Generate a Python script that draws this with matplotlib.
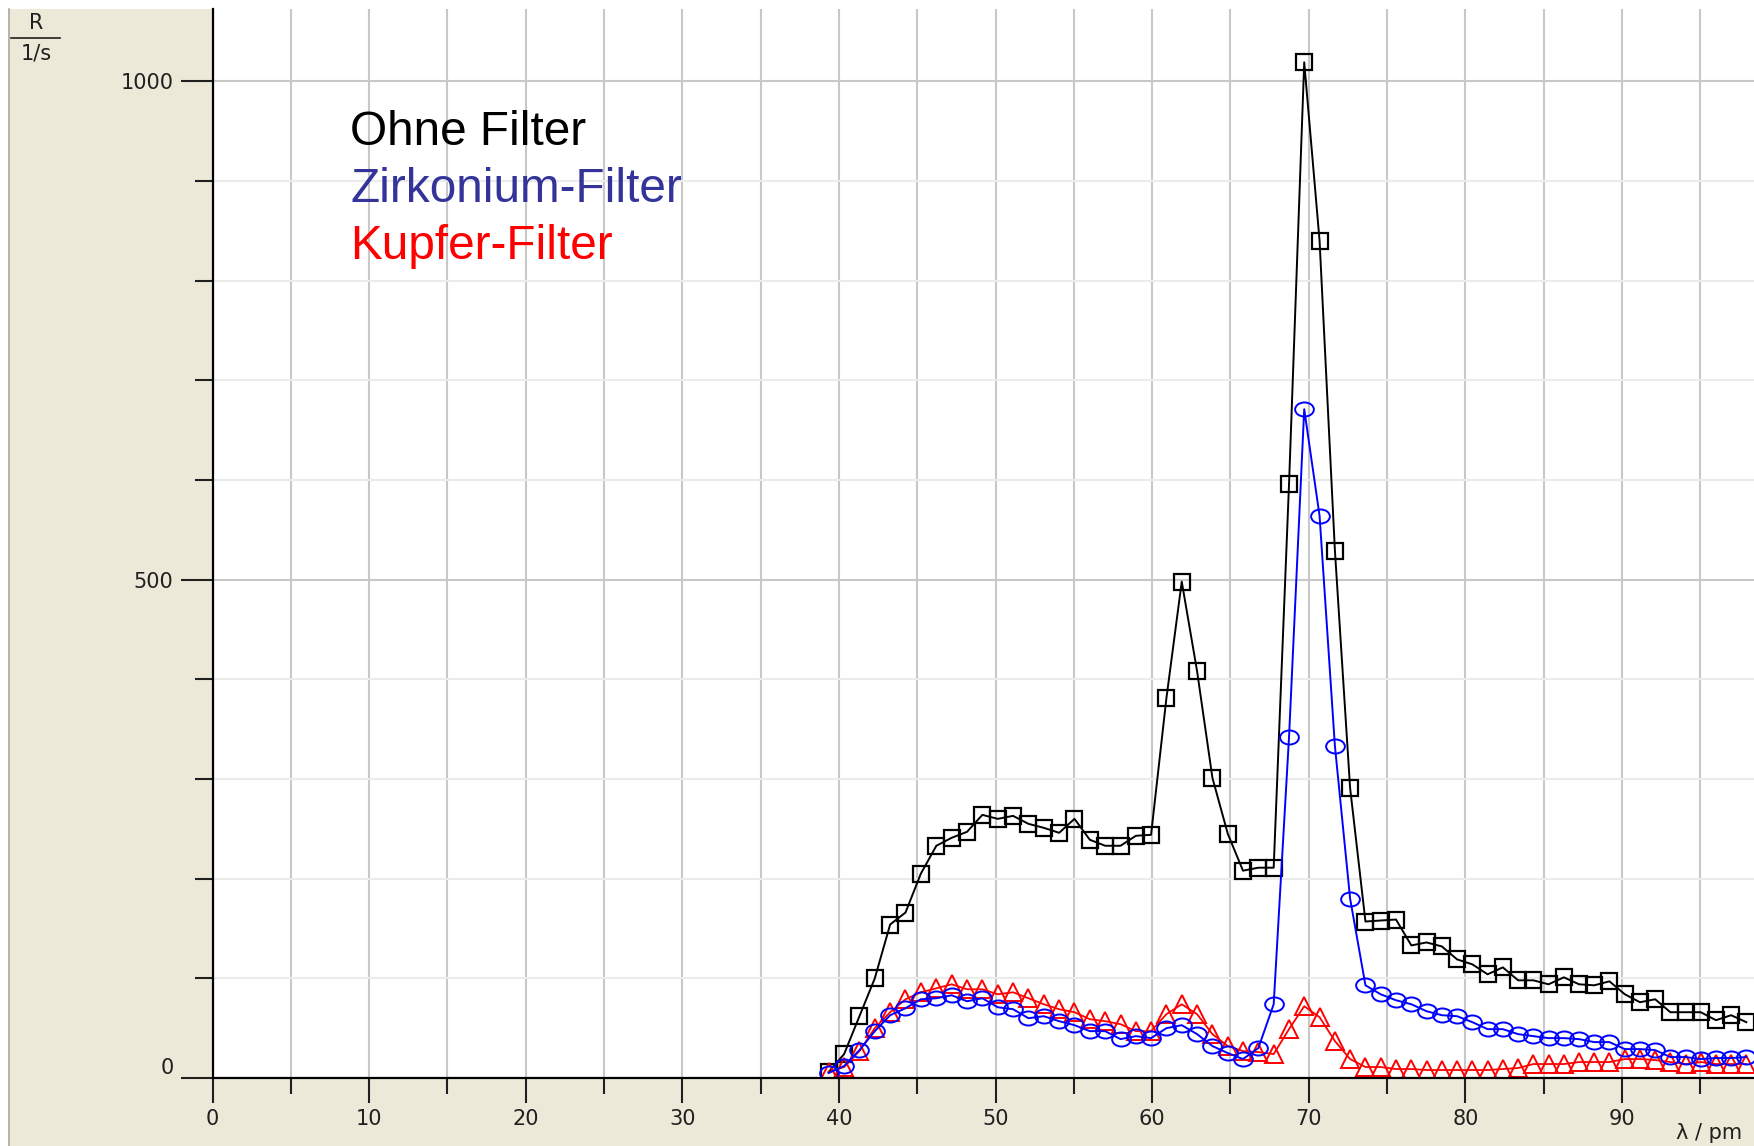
import matplotlib
matplotlib.use("Agg")
import matplotlib.pyplot as plt
from matplotlib.path import Path
from matplotlib.transforms import Affine2D
from matplotlib.patches import Rectangle
from matplotlib.lines import Line2D
from matplotlib.ticker import MultipleLocator, FixedLocator

# ---------------- data ----------------
wavelength_pm = [39.34, 40.33, 41.31, 42.29, 43.27, 44.25, 45.23, 46.22, 47.20, 48.18,
                 49.16, 50.14, 51.12, 52.10, 53.08, 54.06, 55.04, 56.02, 57.00, 57.98,
                 58.96, 59.93, 60.91, 61.89, 62.87, 63.85, 64.83, 65.80, 66.78, 67.76,
                 68.74, 69.71, 70.69, 71.67, 72.64, 73.62, 74.59, 75.57, 76.55, 77.52,
                 78.50, 79.47, 80.45, 81.42, 82.39, 83.37, 84.34, 85.31, 86.29, 87.26,
                 88.23, 89.20, 90.18, 91.15, 92.12, 93.09, 94.06, 95.03, 96.00, 96.97,
                 97.94]

rate_ohne = [6, 24, 62, 100, 154, 166, 205, 233, 241, 247,
             264, 260, 263, 255, 251, 246, 260, 239, 233, 233,
             243, 244, 381, 498, 408, 301, 245, 208, 211, 211,
             596, 1019, 840, 529, 291, 157, 158, 159, 133, 136,
             132, 119, 114, 104, 111, 98, 98, 94, 101, 94,
             93, 97, 84, 76, 79, 66, 66, 66, 58, 63,
             56]

rate_zirkonium = [5, 12, 28, 47, 63, 70, 79, 80, 83, 77,
                  80, 71, 69, 60, 62, 57, 53, 47, 47, 39,
                  42, 40, 50, 53, 44, 32, 25, 19, 30, 74,
                  342, 671, 564, 333, 180, 93, 84, 78, 74, 67,
                  63, 62, 56, 49, 49, 44, 42, 40, 40, 39,
                  36, 36, 29, 29, 28, 21, 21, 19, 20, 20,
                  21]

rate_kupfer = [6, 11, 27, 50, 66, 79, 86, 90, 94, 89,
               89, 84, 86, 80, 74, 69, 66, 59, 57, 54,
               47, 47, 64, 74, 64, 44, 32, 27, 26, 24,
               49, 72, 61, 37, 19, 11, 11, 9, 9, 8,
               8, 8, 8, 8, 9, 10, 14, 14, 14, 16,
               16, 16, 19, 19, 18, 16, 14, 16, 14, 14,
               14]

legend_labels = ["Ohne Filter", "Zirkonium-Filter", "Kupfer-Filter"]
x_major_ticks = [0, 10, 20, 30, 40, 50, 60, 70, 80, 90]
y_major_ticks = [0, 500, 1000]

# ---------------- figure ----------------
W, H = 1754, 1146
fig = plt.figure(figsize=(W / 100, H / 100), dpi=100, facecolor="white")

# beige window panel (behind the axes)
fig.patches.append(Rectangle((9 / W, 0), 1 - 9 / W, (H - 9) / H,
                             transform=fig.transFigure, facecolor="#ECE9D8",
                             edgecolor="none", zorder=-10))
fig.add_artist(Line2D([9 / W, 9 / W], [0, (H - 9) / H], transform=fig.transFigure,
                      color="#a8a8a0", lw=1.2, zorder=-9))

ax_left, ax_bottom_px, ax_top_px = 212.5, 1078, 9
ax = fig.add_axes([ax_left / W, (H - ax_bottom_px) / H,
                   (W - ax_left) / W, (ax_bottom_px - ax_top_px) / H])
ax.set_zorder(1)
ax.set_facecolor("white")
ax.set_xlim(0, 98.43)
ax.set_ylim(0, 1072.5)

# grid
ax.set_axisbelow(True)
ax.xaxis.set_major_locator(FixedLocator(x_major_ticks))
ax.xaxis.set_minor_locator(MultipleLocator(5))
ax.yaxis.set_major_locator(FixedLocator(y_major_ticks))
ax.yaxis.set_minor_locator(MultipleLocator(100))
ax.grid(which="both", axis="x", color="#c8c8c8", lw=1.5)
ax.grid(which="major", axis="y", color="#c8c8c8", lw=1.5)
ax.grid(which="minor", axis="y", color="#ebebeb", lw=1.5)

# markers
ellipse = Affine2D().scale(1.0, 0.75).transform_path(Path.unit_circle())

ax.plot(wavelength_pm, rate_ohne, color="black", lw=1.4, marker="s",
        markersize=11.5, markerfacecolor="none", markeredgecolor="black",
        markeredgewidth=1.6, zorder=3)
ax.plot(wavelength_pm, rate_kupfer, color="#ff0000", lw=1.3, marker="^",
        markersize=13.5, markerfacecolor="none", markeredgecolor="#ff0000",
        markeredgewidth=1.4, zorder=4)
ax.plot(wavelength_pm, rate_zirkonium, color="#0000ff", lw=1.4, marker=ellipse,
        markersize=13.5, markerfacecolor="none", markeredgecolor="#0000ff",
        markeredgewidth=1.4, zorder=5)

# spines
for s in ["top", "right"]:
    ax.spines[s].set_visible(False)
for s in ["left", "bottom"]:
    ax.spines[s].set_color("black")
    ax.spines[s].set_linewidth(1.6)
    ax.spines[s].set_zorder(6)

tick_font = "DejaVu Sans"
ax.tick_params(axis="x", which="major", direction="out", length=18, width=1.5,
               pad=4, labelsize=15, color="#202020", labelcolor="#202020")
ax.tick_params(axis="x", which="minor", direction="out", length=11.5, width=1.5,
               color="#202020")
ax.tick_params(axis="y", which="major", direction="out", length=23, width=1.5,
               pad=5, labelsize=15, color="#202020", labelcolor="#202020")
ax.tick_params(axis="y", which="minor", direction="out", length=13, width=1.5,
               color="#202020")
ax.set_xticklabels([str(t) for t in x_major_ticks])
ax.set_yticklabels([str(t) for t in y_major_ticks])
for lab in ax.get_xticklabels() + ax.get_yticklabels():
    lab.set_family(tick_font)
ax.get_yticklabels()[0].set_va("bottom")

# y-axis quantity label  R / (1/s)
fig.text(36 / W, 1 - 23 / H, "R", ha="center", va="center", fontsize=15,
         color="#202020")
fig.add_artist(Line2D([11 / W, 60 / W], [1 - 38 / H, 1 - 38 / H],
                      transform=fig.transFigure, color="#202020", lw=1.2))
fig.text(36 / W, 1 - 53.5 / H, "1/s", ha="center", va="center", fontsize=15,
         color="#202020")

# x-axis quantity label
fig.text(1742 / W, 3 / H, "λ / pm", ha="right", va="bottom", fontsize=15,
         color="#202020")

# legend texts
legend_colors = ["black", "#333399", "#ff0000"]
baselines = [145, 202, 259]
for lab, col, b in zip(legend_labels, legend_colors, baselines):
    fig.text(350 / W, 1 - b / H, lab, ha="left", va="baseline", fontsize=34.4,
             family="Liberation Sans", color=col, zorder=10)

fig.savefig("out.png", dpi=100, facecolor=fig.get_facecolor())
